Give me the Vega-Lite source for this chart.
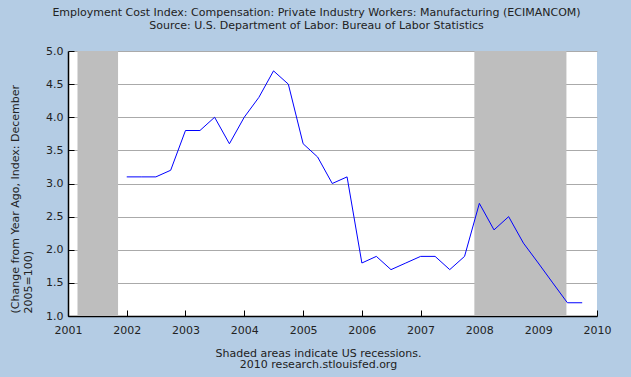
{
  "$schema": "https://vega.github.io/schema/vega-lite/v6.json",
  "autosize": "none",
  "width": 529,
  "height": 265,
  "padding": {"left": 68, "top": 51, "right": 34, "bottom": 61},
  "background": "#b4cce4",
  "config": {
    "font": "DejaVu Sans",
    "view": {"stroke": null, "fill": "#ffffff"},
    "axis": {"labelFont": "DejaVu Sans", "titleFont": "DejaVu Sans", "labelFontSize": 11, "titleFontSize": 11, "labelColor": "#222222", "titleColor": "#222222", "titleFontWeight": "normal", "domainColor": "#000000", "tickColor": "#000000", "domainWidth": 1.5}
  },
  "title": {
    "text": ["Employment Cost Index: Compensation: Private Industry Workers: Manufacturing (ECIMANCOM)", "Source: U.S. Department of Labor: Bureau of Labor Statistics"],
    "font": "DejaVu Sans",
    "fontSize": 11,
    "fontWeight": "normal",
    "color": "#222222",
    "anchor": "middle",
    "dx": -16,
    "offset": 14,
    "lineHeight": 13
  },
  "datasets": {
    "rec": [
      {"start": "2001-03-01", "end": "2001-11-08"},
      {"start": "2007-12-01", "end": "2009-06-25"}
    ],
    "eci": [
      {"date": "2002-01-01", "value": 3.1},
      {"date": "2002-04-01", "value": 3.1},
      {"date": "2002-07-01", "value": 3.1},
      {"date": "2002-10-01", "value": 3.2},
      {"date": "2003-01-01", "value": 3.8},
      {"date": "2003-04-01", "value": 3.8},
      {"date": "2003-07-01", "value": 4.0},
      {"date": "2003-10-01", "value": 3.6},
      {"date": "2004-01-01", "value": 4.0},
      {"date": "2004-04-01", "value": 4.3},
      {"date": "2004-07-01", "value": 4.7},
      {"date": "2004-10-01", "value": 4.5},
      {"date": "2005-01-01", "value": 3.6},
      {"date": "2005-04-01", "value": 3.4},
      {"date": "2005-07-01", "value": 3.0},
      {"date": "2005-10-01", "value": 3.1},
      {"date": "2006-01-01", "value": 1.8},
      {"date": "2006-04-01", "value": 1.9},
      {"date": "2006-07-01", "value": 1.7},
      {"date": "2006-10-01", "value": 1.8},
      {"date": "2007-01-01", "value": 1.9},
      {"date": "2007-04-01", "value": 1.9},
      {"date": "2007-07-01", "value": 1.7},
      {"date": "2007-10-01", "value": 1.9},
      {"date": "2008-01-01", "value": 2.7},
      {"date": "2008-04-01", "value": 2.3},
      {"date": "2008-07-01", "value": 2.5},
      {"date": "2008-10-01", "value": 2.1},
      {"date": "2009-01-01", "value": 1.8},
      {"date": "2009-04-01", "value": 1.5},
      {"date": "2009-07-01", "value": 1.2},
      {"date": "2009-10-01", "value": 1.2}
    ]
  },
  "layer": [
    {
      "data": {"name": "rec"},
      "mark": {"type": "rect", "color": "#bebebe", "opacity": 1},
      "encoding": {
        "x": {"field": "start", "type": "temporal"},
        "x2": {"field": "end"}
      }
    },
    {
      "data": {"name": "eci"},
      "mark": {"type": "line", "color": "#0000ff", "strokeWidth": 1},
      "encoding": {
        "x": {
          "field": "date", "type": "temporal",
          "scale": {"domain": ["2001-01-01", "2010-01-01"], "nice": false},
          "axis": {
            "title": ["Shaded areas indicate US recessions.", "2010 research.stlouisfed.org"],
            "titleX": 250, "titleY": 31, "titleBaseline": "top", "titleLineHeight": 11.5,
            "format": "%Y", "tickCount": {"interval": "year", "step": 1},
            "grid": false, "tickSize": -6, "labelPadding": 14, "labelFlush": false, "labelOverlap": false
          }
        },
        "y": {
          "field": "value", "type": "quantitative",
          "scale": {"domain": [1, 5], "nice": false, "zero": false},
          "axis": {
            "title": ["(Change from Year Ago, Index: December", "2005=100)"],
            "titleLineHeight": 13, "titleX": -59, "titleY": 262, "titleAlign": "left", "titleBaseline": "top", "titleAngle": -90,
            "format": ".1f", "values": [1, 1.5, 2, 2.5, 3, 3.5, 4, 4.5, 5],
            "grid": true, "gridColor": "#aaaaaa", "gridOpacity": 1, "gridWidth": 1,
            "tickSize": -6, "labelPadding": 11, "labelFlush": false
          }
        }
      }
    }
  ]
}
